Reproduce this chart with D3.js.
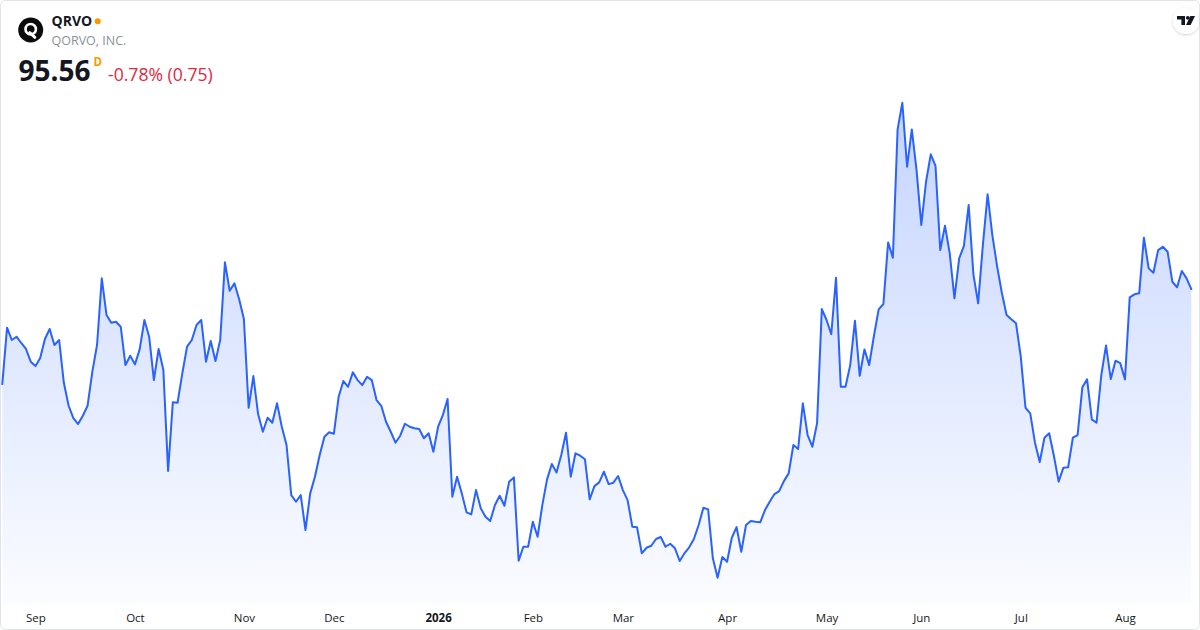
<!DOCTYPE html>
<html>
<head>
<meta charset="utf-8">
<script src="https://cdn.jsdelivr.net/npm/d3@7"></script>
<style>
  html, body { margin: 0; padding: 0; background: #fff; }
  #chart { width: 1200px; height: 630px; }
</style>
</head>
<body>
<div id="chart"></div>
<script>
// ── DATA ──────────────────────────────────────────────────────────────────
// Daily closes, QRVO, late Aug 2025 → late Aug 2026
const prices = [
  88.90, 92.85, 91.99, 92.22, 91.78, 91.36, 90.47, 90.16, 90.72, 92.06,
  92.76, 91.64, 91.99, 88.97, 87.38, 86.52, 86.10, 86.68, 87.38, 89.76,
  91.64, 96.31, 93.74, 93.20, 93.27, 92.92, 90.23, 90.89, 90.28, 91.33,
  93.39, 92.22, 89.18, 91.36, 89.88, 82.81, 87.62, 87.59, 89.65, 91.52,
  91.99, 93.04, 93.39, 90.47, 91.92, 90.51, 91.99, 97.43, 95.44, 95.96,
  94.84, 93.46, 87.24, 89.46, 86.80, 85.56, 86.54, 86.19, 87.55, 85.91,
  84.63, 81.12, 80.65, 81.12, 78.67, 81.24, 82.41, 83.93, 85.21, 85.52,
  85.42, 88.01, 89.11, 88.71, 89.72, 89.18, 88.83, 89.41, 89.18, 87.78,
  87.38, 86.26, 85.56, 84.79, 85.28, 86.12, 85.91, 85.80, 85.75, 85.10,
  85.45, 84.16, 85.91, 86.73, 87.85, 81.00, 82.41, 81.24, 79.91, 79.77,
  81.47, 80.19, 79.60, 79.30, 80.42, 81.07, 80.37, 82.06, 82.36, 76.52,
  77.50, 77.50, 79.25, 78.20, 80.42, 82.22, 83.30, 82.71, 83.93, 85.49,
  82.41, 84.05, 83.88, 83.63, 80.82, 81.75, 82.01, 82.76, 81.89, 81.99,
  82.46, 81.47, 80.77, 78.90, 78.86, 77.04, 77.43, 77.57, 78.04, 78.18,
  77.50, 77.71, 77.39, 76.50, 77.04, 77.46, 78.04, 79.02, 80.23, 80.12,
  76.69, 75.33, 76.78, 76.45, 78.13, 78.88, 77.15, 79.02, 79.30, 79.25,
  79.21, 80.07, 80.65, 81.19, 81.40, 82.10, 82.64, 84.63, 84.35, 87.55,
  85.33, 84.51, 86.15, 94.16, 93.39, 92.39, 96.35, 88.71, 88.71, 90.23,
  93.34, 89.48, 91.33, 90.23, 92.27, 94.14, 94.51, 98.83, 97.75, 106.75,
  108.62, 104.13, 106.75, 103.90, 100.05, 103.08, 105.00, 104.20, 98.29, 100.00,
  98.06, 94.91, 97.71, 98.59, 101.45, 96.59, 94.56, 98.64, 102.20, 99.34,
  97.17, 95.30, 93.74, 93.44, 93.16, 90.82, 87.24, 86.85, 84.79, 83.44,
  85.14, 85.45, 83.86, 82.06, 83.04, 83.07, 85.14, 85.33, 88.67, 89.23,
  86.43, 86.19, 89.53, 91.61, 89.25, 90.54, 90.37, 89.23, 94.98, 95.19,
  95.26, 99.16, 97.01, 96.70, 98.29, 98.52, 98.17, 96.07, 95.68, 96.82,
  96.31, 95.56
];

// First trading day of each month (bar index) and its label
const tickIdx    = [7, 28, 51, 70, 92, 112, 131, 153, 174, 194, 215, 237];
const tickLabels = ["Sep", "Oct", "Nov", "Dec", "2026", "Feb", "Mar", "Apr", "May", "Jun", "Jul", "Aug"];

const symbol   = "QRVO";
const company  = "QORVO, INC.";
const lastText = "95.56";
const change   = "-0.78% (0.75)";

// ── LAYOUT ────────────────────────────────────────────────────────────────
const W = 1200, H = 630;
const FONT = "'Open Sans', 'Noto Sans', sans-serif";
const BLUE = "#2962ff";
const plot = { left: 2.3, right: 1191.3, top: 102.7, bottom: 577.7, floor: 604 };

const svg = d3.select("#chart")
  .append("svg")
  .attr("width", W)
  .attr("height", H)
  .style("display", "block");

const defs = svg.append("defs");

const grad = defs.append("linearGradient")
  .attr("id", "fillGrad")
  .attr("gradientUnits", "userSpaceOnUse")
  .attr("x1", 0).attr("x2", 0)
  .attr("y1", plot.top).attr("y2", plot.floor);
grad.append("stop").attr("offset", "0%").attr("stop-color", BLUE).attr("stop-opacity", 0.27);
grad.append("stop").attr("offset", "100%").attr("stop-color", BLUE).attr("stop-opacity", 0.02);

const shadow = defs.append("filter")
  .attr("id", "shadow")
  .attr("x", "-50%").attr("y", "-50%")
  .attr("width", "200%").attr("height", "200%");
shadow.append("feDropShadow")
  .attr("dx", 0).attr("dy", 1)
  .attr("stdDeviation", 1.6)
  .attr("flood-color", "#000")
  .attr("flood-opacity", 0.18);

// card
svg.append("rect")
  .attr("x", 0.5).attr("y", 0.5)
  .attr("width", W - 1).attr("height", H - 1)
  .attr("rx", 5)
  .attr("fill", "#fff")
  .attr("stroke", "#e0e3eb");

// ── SCALES ────────────────────────────────────────────────────────────────
const x = d3.scaleLinear()
  .domain([0, prices.length - 1])
  .range([plot.left, plot.right]);

const y = d3.scaleLinear()
  .domain(d3.extent(prices))
  .range([plot.bottom, plot.top]);

// ── AREA + LINE ───────────────────────────────────────────────────────────
const area = d3.area()
  .x((_, i) => x(i))
  .y0(plot.floor)
  .y1(d => y(d));

const line = d3.line()
  .x((_, i) => x(i))
  .y(d => y(d));

svg.append("path")
  .datum(prices)
  .attr("fill", "url(#fillGrad)")
  .attr("d", area);

svg.append("path")
  .datum(prices)
  .attr("fill", "none")
  .attr("stroke", BLUE)
  .attr("stroke-width", 2)
  .attr("stroke-linejoin", "round")
  .attr("stroke-linecap", "round")
  .attr("d", line);

// ── X AXIS ────────────────────────────────────────────────────────────────
svg.append("g")
  .attr("transform", "translate(0,610)")
  .call(
    d3.axisBottom(x)
      .tickValues(tickIdx)
      .tickFormat((d, i) => tickLabels[i])
      .tickSize(0)
  )
  .call(ax => ax.select(".domain").remove())
  .call(ax => ax.selectAll(".tick text")
    .attr("y", 11.5)
    .attr("dy", 0)
    .attr("fill", "#131722")
    .attr("font-family", FONT)
    .attr("font-size", "11.5px")
    .attr("font-weight", (d, i) => tickLabels[i] === "2026" ? 700 : 400));

// ── HEADER ────────────────────────────────────────────────────────────────
const logo = svg.append("g").attr("transform", "translate(30.7,30)");
logo.append("circle").attr("r", 12.5).attr("fill", "#0b0b0b");
logo.append("circle")
  .attr("cx", 0).attr("cy", -0.8).attr("r", 5.2)
  .attr("fill", "none").attr("stroke", "#fff").attr("stroke-width", 2.6);
logo.append("path")
  .attr("d", "M-1,2.6 L4.2,7.4")
  .attr("stroke", "#fff").attr("stroke-width", 2.8).attr("stroke-linecap", "round");

svg.append("text")
  .attr("x", 51.5).attr("y", 26)
  .attr("font-family", FONT).attr("font-size", "14px").attr("font-weight", 700)
  .attr("fill", "#131722")
  .text(symbol);

svg.append("circle")
  .attr("cx", 97.7).attr("cy", 21.3).attr("r", 3)
  .attr("fill", "#ff9800");

svg.append("text")
  .attr("x", 51.5).attr("y", 45)
  .attr("font-family", FONT).attr("font-size", "12.5px")
  .attr("fill", "#8c8f99")
  .text(company);

svg.append("text")
  .attr("x", 18.5).attr("y", 81)
  .attr("font-family", FONT).attr("font-size", "28px").attr("font-weight", 700)
  .attr("fill", "#131722")
  .text(lastText);

svg.append("text")
  .attr("x", 93.5).attr("y", 65.7)
  .attr("font-family", FONT).attr("font-size", "11.5px").attr("font-weight", 700)
  .attr("fill", "#ff9800")
  .text("D");

svg.append("text")
  .attr("x", 108).attr("y", 81)
  .attr("font-family", FONT).attr("font-size", "17.6px")
  .attr("fill", "#e0283f")
  .text(change);

// ── TV BADGE (top right) ──────────────────────────────────────────────────
const badge = svg.append("g").attr("transform", "translate(1186,21)");
badge.append("circle")
  .attr("r", 13)
  .attr("fill", "#fff")
  .attr("filter", "url(#shadow)");
badge.append("path")
  .attr("fill", "#131722")
  .attr("d", "M-9,-5 H-1 V4 H-4.6 V-1.6 H-9 Z");
badge.append("circle")
  .attr("cx", 1.8).attr("cy", -3.2).attr("r", 1.9)
  .attr("fill", "#131722");
badge.append("path")
  .attr("fill", "#131722")
  .attr("d", "M4.4,-5 H9 L4.6,4 H0 Z");
</script>
</body>
</html>
